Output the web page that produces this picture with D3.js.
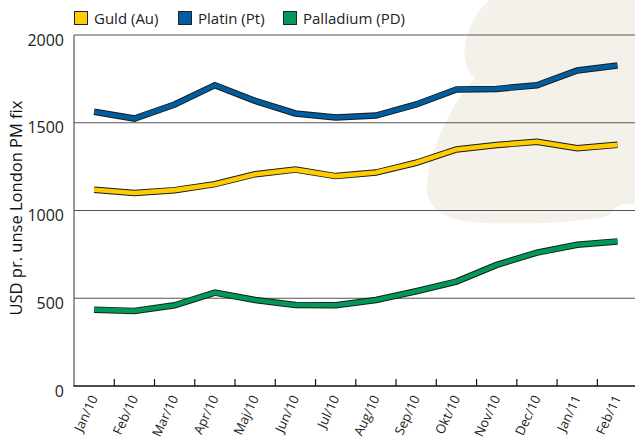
<!DOCTYPE html>
<html><head><meta charset="utf-8">
<script src="https://cdn.jsdelivr.net/npm/d3@7"></script>
<style>body{margin:0;background:#fff}svg{display:block}</style>
</head><body>
<script>
const months = ["Jan/10","Feb/10","Mar/10","Apr/10","Maj/10","Jun/10","Jul/10","Aug/10","Sep/10","Okt/10","Nov/10","Dec/10","Jan/11","Feb/11"];
const guld = [1118,1100,1116,1150,1207,1233,1196,1216,1272,1348,1373,1392,1355,1374];
const platin = [1563,1524,1604,1714,1625,1553,1530,1541,1604,1690,1693,1714,1798,1826];
const palladium = [435,428,460,532,490,462,460,490,540,595,690,760,805,824];
const yTicks = [0,500,1000,1500,2000];
const seriesNames = ["Guld (Au)","Platin (Pt)","Palladium (PD)"];
const seriesColors = ["#ffcc00","#005ea0","#00995a"];

const W = 635, H = 441;
const svg = d3.select("body").append("svg").attr("width", W).attr("height", H);
const font = "'Open Sans', sans-serif";

// background blob
svg.append("path")
  .attr("d","M490,0 L635,0 L635,205 C625,202 615,204 610,215 C590,222 520,226 470,222 C440,218 425,205 427,185 C428,160 440,130 458,100 L475,78 C466,70 462,58 466,40 C470,22 480,8 490,0 Z")
  .attr("fill","#f4f1eb");

const x = d3.scaleBand().domain(months).range([74, 637.6]).padding(0);
const y = d3.scaleLinear().domain([0,2000]).range([386, 35]);
const cx = m => x(m) + x.bandwidth()/2;

// gridlines
svg.append("g").selectAll("line").data(yTicks.filter(d=>d>0)).join("line")
  .attr("x1", 74).attr("x2", W).attr("y1", d=>y(d)).attr("y2", d=>y(d))
  .attr("stroke","#555").attr("stroke-width",1.2);

// y labels
svg.append("g").selectAll("text").data(yTicks).join("text")
  .attr("x", 64).attr("y", d=>y(d)+10.5).attr("text-anchor","end")
  .attr("font-family", font).attr("font-size", 16).attr("fill","#222")
  .text(d=>d);

// lines
const line = d3.line().x((d,i)=>cx(months[i])).y(d=>y(d));
[guld, platin, palladium].forEach((s,k)=>{
  svg.append("path").attr("d", line(s)).attr("fill","none")
    .attr("stroke","#1a1a1a").attr("stroke-width",6.5).attr("stroke-linejoin","miter");
  svg.append("path").attr("d", line(s)).attr("fill","none")
    .attr("stroke",seriesColors[k]).attr("stroke-width",4.6).attr("stroke-linejoin","miter");
});

// axes
svg.append("line").attr("x1",74).attr("x2",74).attr("y1",35).attr("y2",386)
  .attr("stroke","#555").attr("stroke-width",1.2);
svg.append("line").attr("x1",73.5).attr("x2",W).attr("y1",386).attr("y2",386)
  .attr("stroke","#111").attr("stroke-width",1.6);
const boundaries = months.slice(1).map(m => x(m));
svg.append("g").selectAll("line").data(boundaries).join("line")
  .attr("x1", d=>d).attr("x2", d=>d).attr("y1",386).attr("y2",379)
  .attr("stroke","#111").attr("stroke-width",1.2);

// x labels
svg.append("g").selectAll("text").data(months).join("text")
  .attr("transform", d=>`translate(${cx(d)+4},398) rotate(-65)`)
  .attr("text-anchor","end")
  .attr("font-family", font).attr("font-size", 13).attr("fill","#222")
  .text(d=>d);

// y title
svg.append("text")
  .attr("transform","translate(22,208) rotate(-90)")
  .attr("text-anchor","middle")
  .attr("font-family", font).attr("font-size", 16.5).attr("fill","#111")
  .text("USD pr. unse London PM fix");

// legend
const legX = [74, 178, 283];
const leg = svg.append("g").selectAll("g").data(seriesNames).join("g")
  .attr("transform",(d,i)=>`translate(${legX[i]},11)`);
leg.append("rect").attr("x",0.5).attr("y",0.5).attr("width",13).attr("height",13)
  .attr("fill",(d,i)=>seriesColors[i]).attr("stroke","#222").attr("stroke-width",1);
leg.append("text").attr("x",20).attr("y",13)
  .attr("font-family", font).attr("font-size", 15).attr("fill","#222")
  .text(d=>d);
</script>
</body></html>
